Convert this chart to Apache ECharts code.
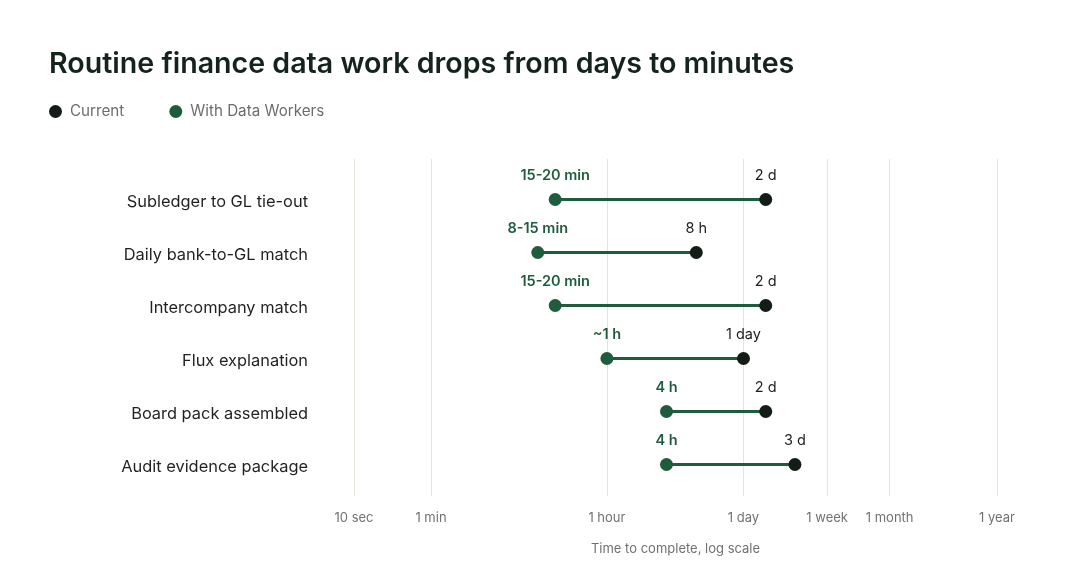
<!DOCTYPE html>
<html>
<head>
<meta charset="utf-8">
<script src="https://cdn.jsdelivr.net/npm/echarts@6/dist/echarts.min.js"></script>
<style>
  html, body { margin: 0; padding: 0; background: #ffffff; }
  #chart { width: 1080px; height: 588px; }
</style>
</head>
<body>
<div id="chart"></div>
<script>
  // data (times in seconds)
  const categories = [
    'Subledger to GL tie-out',
    'Daily bank-to-GL match',
    'Intercompany match',
    'Flux explanation',
    'Board pack assembled',
    'Audit evidence package'
  ]
  const currentSec = [145000, 28800, 145000, 86400, 145000, 286000]
  const currentLabels = ['2 d', '8 h', '2 d', '1 day', '2 d', '3 d']
  const withSec = [1080, 720, 1080, 3600, 14400, 14400]
  const withLabels = ['15-20 min', '8-15 min', '15-20 min', '~1 h', '4 h', '4 h']
  const tickValues = [10, 60, 3600, 86400, 604800, 2592000, 31536000]
  const tickLabels = ['10 sec', '1 min', '1 hour', '1 day', '1 week', '1 month', '1 year']

  const green = '#1f5c3e'
  const dark = '#131c17'
  const font = 'Inter, "Noto Sans", sans-serif'

  let rangeData = categories.map((c, i) => [withSec[i], currentSec[i], i])

  let option = {
    backgroundColor: '#ffffff',
    animation: false,
    textStyle: { fontFamily: font },
    title: {
      text: 'Routine finance data work drops from days to minutes',
      left: 49,
      top: 50,
      padding: 0,
      textStyle: { fontSize: 28.6, fontWeight: 600, color: '#14231b', fontFamily: font }
    },
    legend: {
      left: 49,
      top: 104,
      padding: 0,
      icon: 'circle',
      itemWidth: 13,
      itemHeight: 13,
      itemGap: 45,
      data: ['Current', 'With Data Workers'],
      textStyle: { fontSize: 15.2, color: '#6b6f6c', fontFamily: font, padding: [0, 0, 0, 3] }
    },
    grid: [
      { left: 354, right: 83, top: 173, height: 318 },
      { left: 354, right: 83, top: 159, height: 337 }
    ],
    xAxis: [{
      gridIndex: 0,
      type: 'log',
      min: 10,
      max: 31536000,
      axisLine: { show: false },
      axisTick: { show: false },
      axisLabel: { show: false },
      splitLine: { show: false }
    }, {
      gridIndex: 1,
      type: 'log',
      min: 10,
      max: 31536000,
      name: 'Time to complete, log scale',
      nameLocation: 'middle',
      nameGap: 47,
      nameTextStyle: { fontSize: 13, color: '#6f7370', fontFamily: font },
      axisLine: { show: false },
      axisTick: { show: false },
      axisLabel: { show: false },
      splitLine: { show: false }
    }],
    yAxis: [{
      gridIndex: 0,
      type: 'category',
      inverse: true,
      data: categories,
      axisLine: { show: false },
      axisTick: { show: false },
      axisLabel: {
        margin: 46,
        formatter: v => '{a|' + v + '}',
        rich: {
          a: { fontSize: 16.4, color: '#1f211f', fontFamily: font, padding: [6, 0, 0, 0] }
        }
      }
    }, {
      gridIndex: 1,
      type: 'value',
      min: 0,
      max: 1,
      show: false
    }],
    series: [{
      // vertical reference lines and tick labels
      type: 'line',
      xAxisIndex: 1,
      yAxisIndex: 1,
      data: [],
      silent: true,
      z: 0,
      markLine: {
        silent: true,
        z: 0,
        symbol: ['none', 'none'],
        lineStyle: { color: '#e6e4dc', width: 1, type: 'solid' },
        label: {
          position: 'start',
          distance: 16,
          fontSize: 13,
          color: '#6f7370',
          fontFamily: font
        },
        data: tickValues.map((v, i) => ({ xAxis: v, label: { formatter: tickLabels[i] } }))
      }
    }, {
      type: 'custom',
      xAxisIndex: 0,
      yAxisIndex: 0,
      silent: true,
      encode: { x: [0, 1], y: 2 },
      data: rangeData,
      renderItem: function (params, api) {
        let a = api.coord([api.value(0), api.value(2)])
        let b = api.coord([api.value(1), api.value(2)])
        return {
          type: 'line',
          shape: { x1: a[0], y1: a[1], x2: b[0], y2: b[1] },
          style: { stroke: green, lineWidth: 3 }
        }
      },
      z: 2
    }, {
      name: 'Current',
      type: 'scatter',
      xAxisIndex: 0,
      yAxisIndex: 0,
      symbol: 'circle',
      symbolSize: 13,
      itemStyle: { color: dark, opacity: 1 },
      data: currentSec.map((v, i) => [v, i]),
      label: {
        show: true,
        position: 'top',
        distance: 10,
        fontSize: 14.5,
        color: '#1a1f1c',
        fontFamily: font,
        formatter: p => currentLabels[p.dataIndex]
      },
      z: 4
    }, {
      name: 'With Data Workers',
      type: 'scatter',
      xAxisIndex: 0,
      yAxisIndex: 0,
      symbol: 'circle',
      symbolSize: 13,
      itemStyle: { color: green, opacity: 1 },
      data: withSec.map((v, i) => [v, i]),
      label: {
        show: true,
        position: 'top',
        distance: 10,
        fontSize: 14.5,
        fontWeight: 600,
        color: green,
        fontFamily: font,
        formatter: p => withLabels[p.dataIndex]
      },
      z: 4
    }]
  }

  let chart = echarts.init(document.getElementById('chart'))
  chart.setOption(option)
</script>
</body>
</html>
